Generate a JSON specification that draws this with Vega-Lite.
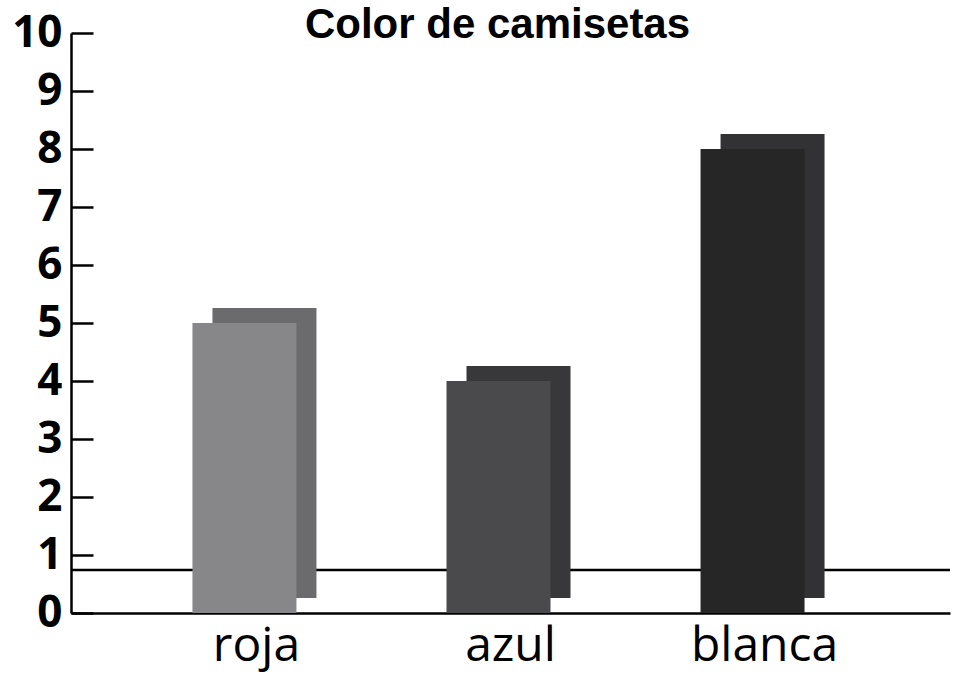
{
  "$schema": "https://vega.github.io/schema/vega-lite/v6.json",
  "width": 879,
  "height": 580,
  "autosize": "none",
  "padding": {"left": 71, "top": 33, "right": 6, "bottom": 65},
  "background": "white",
  "title": {
    "text": "Color de camisetas",
    "font": "Liberation Sans",
    "fontSize": 42,
    "fontWeight": "bold",
    "color": "black",
    "anchor": "middle",
    "frame": "group",
    "offset": -36,
    "dx": -13
  },
  "config": {"view": {"stroke": null}},
  "data": {
    "values": [
      {"color": "roja", "cantidad": 5},
      {"color": "azul", "cantidad": 4},
      {"color": "blanca", "cantidad": 8}
    ]
  },
  "encoding": {
    "x": {
      "field": "color",
      "type": "nominal",
      "sort": null,
      "scale": {"paddingInner": 0, "paddingOuter": 0.23},
      "axis": {
        "title": null,
        "labelAngle": 0,
        "ticks": false,
        "domain": true,
        "domainColor": "black",
        "domainWidth": 2.5,
        "labelFont": "Open Sans",
        "labelFontSize": 48,
        "labelColor": "black",
        "labelPadding": 9
      }
    }
  },
  "layer": [
    {
      "data": {"values": [{"floor": 0.74}]},
      "mark": {"type": "rule", "color": "black", "strokeWidth": 2.5},
      "encoding": {"x": null, "y": {"field": "floor", "type": "quantitative"}}
    },
    {
      "mark": {"type": "bar", "width": 104, "xOffset": 8, "yOffset": -15},
      "encoding": {
        "y": {"field": "cantidad", "type": "quantitative"},
        "color": {
          "field": "color",
          "type": "nominal",
          "legend": null,
          "scale": {"domain": ["roja", "azul", "blanca"], "range": ["#6b6b6d", "#38383a", "#323234"]}
        }
      }
    },
    {
      "mark": {"type": "bar", "width": 104, "xOffset": -12},
      "encoding": {
        "y": {
          "field": "cantidad",
          "type": "quantitative",
          "scale": {"domain": [0, 10]},
          "axis": {
            "title": null,
            "values": [0, 1, 2, 3, 4, 5, 6, 7, 8, 9, 10],
            "format": "d",
            "grid": false,
            "domainColor": "black",
            "domainWidth": 2.5,
            "tickColor": "black",
            "tickWidth": 2.5,
            "tickSize": -22,
            "labelPadding": 31,
            "labelFont": "Open Sans",
            "labelFontWeight": "bold",
            "labelFontSize": 44,
            "labelColor": "black"
          }
        },
        "color": {
          "field": "color",
          "type": "nominal",
          "legend": null,
          "scale": {"domain": ["roja", "azul", "blanca"], "range": ["#878789", "#4a4a4c", "#262626"]}
        }
      }
    }
  ],
  "resolve": {"scale": {"color": "independent"}}
}
